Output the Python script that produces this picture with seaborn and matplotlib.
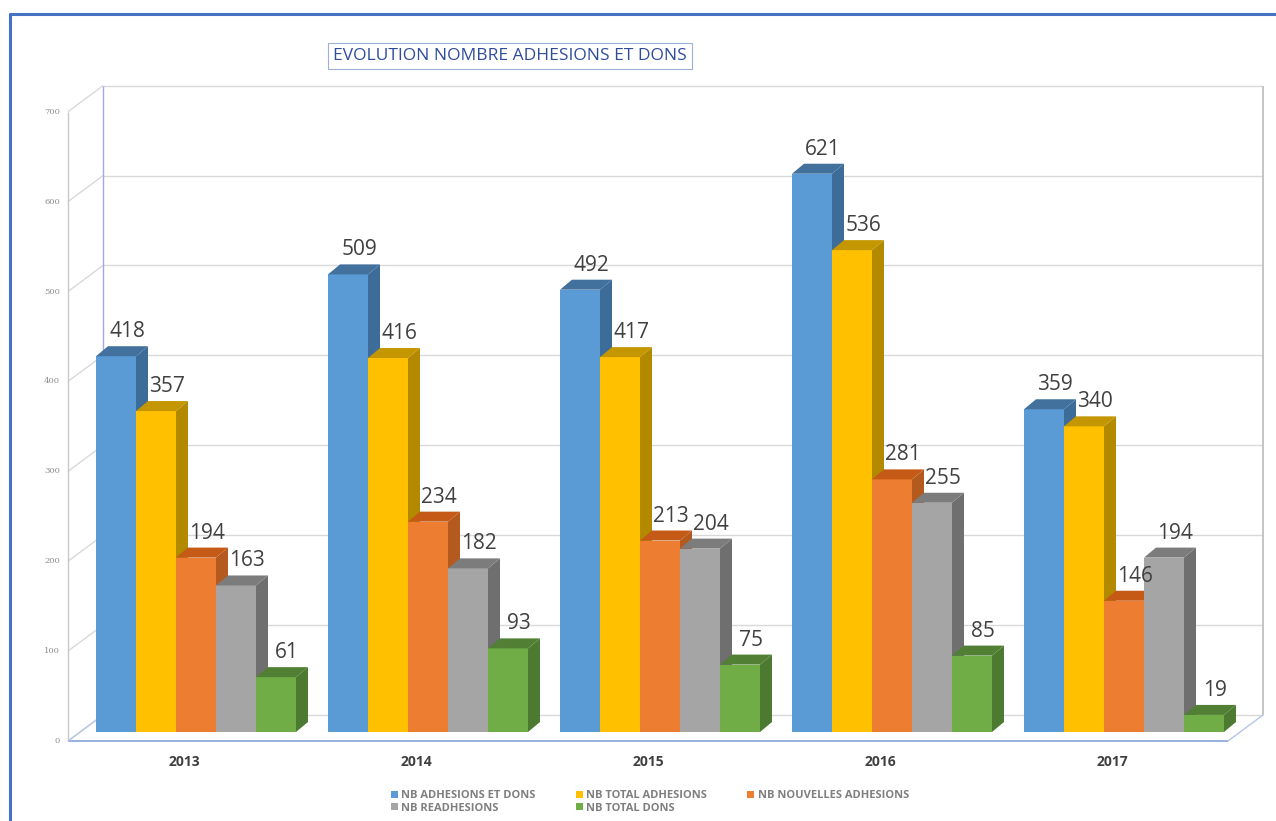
import matplotlib
matplotlib.use("Agg")
import matplotlib.pyplot as plt
from matplotlib.patches import Polygon
from matplotlib.lines import Line2D
import seaborn as sns
import pandas as pd

# ---------------- data ----------------
years = ["2013", "2014", "2015", "2016", "2017"]
series = ["NB ADHESIONS ET DONS", "NB TOTAL ADHESIONS", "NB NOUVELLES ADHESIONS",
          "NB READHESIONS", "NB TOTAL DONS"]
adhesions_et_dons = [418, 509, 492, 621, 359]
total_adhesions = [357, 416, 417, 536, 340]
nouvelles_adhesions = [194, 234, 213, 281, 146]
readhesions = [163, 182, 204, 255, 194]
total_dons = [61, 93, 75, 85, 19]
yticks = [0, 100, 200, 300, 400, 500, 600, 700]

front_colors = ["#5B9BD5", "#FFC000", "#ED7D31", "#A5A5A5", "#70AD47"]
side_colors = ["#3E6C98", "#B38900", "#B55A1F", "#6F6F6F", "#4C7A30"]
top_colors = ["#41719C", "#C49600", "#C45A16", "#7C7C7C", "#517F34"]

values = [adhesions_et_dons, total_adhesions, nouvelles_adhesions, readhesions, total_dons]
rows = []
for s, vals in zip(series, values):
    for y, v in zip(years, vals):
        rows.append({"year": y, "series": s, "value": v})
df = pd.DataFrame(rows)

# ---------------- geometry (pixels) ----------------
FW, FH, DPI = 1276, 821, 100
AX_L, AX_R, AX_B = 80, 1240, 732
PXY = 0.899                      # px per unit
YMAX = 700
AX_T = AX_B - YMAX * PXY
PXX = (AX_R - AX_L) / 5.0        # px per category
FRONT = (-12, 9)                 # image px offset of front plane
BACK = (23, -17)                 # image px offset of back wall
DEPTH = (12, -10)                # bar depth offset

sns.set_style("white")
plt.rcParams["font.family"] = ["Open Sans", "DejaVu Sans"]

fig = plt.figure(figsize=(FW / DPI, FH / DPI), dpi=DPI)
ax = fig.add_axes([AX_L / FW, (FH - AX_B) / FH, (AX_R - AX_L) / FW, (AX_B - AX_T) / FH])

sns.barplot(data=df, x="year", y="value", hue="series", palette=front_colors,
            width=0.862, saturation=1, ax=ax, linewidth=0, edgecolor="none")
ax.set_xlim(-0.5, 4.5)
ax.set_ylim(0, YMAX)


def P(x, y, off):
    return x + off[0] / PXX, y - off[1] / PXY


def seg(p1, p2, color, lw=1.0, z=1):
    ax.plot([p1[0], p2[0]], [p1[1], p2[1]], color=color, lw=lw, clip_on=False,
            zorder=z, solid_capstyle="butt")


grid_c = "#D9D9D9"
# back wall gridlines
for v in yticks:
    seg(P(-0.5, v, BACK), P(4.5, v, BACK), grid_c)
    # diagonal connectors on side wall
    seg(P(-0.5, v, FRONT), P(-0.5, v, BACK), grid_c)
# back wall left edge
seg(P(-0.5, 0, BACK), P(-0.5, YMAX, BACK), "#A3A8E0")
# front axis line
seg(P(-0.5, 0, FRONT), P(-0.5, YMAX, FRONT), "#C8C8C8")
# right wall edge
seg(P(4.5, 0, BACK), P(4.5, YMAX, BACK), "#C0C0C0", lw=1.3)
# floor
seg(P(-0.5, 0, FRONT), P(4.5, 0, FRONT), "#8FAADC", lw=1.3)
seg(P(4.5, 0, FRONT), P(4.5, 0, BACK), "#B4C7E7", lw=1.0)
seg(P(-0.5, 0, FRONT), P(-0.5, 0, BACK), "#B4C7E7", lw=1.0)

# ---------------- 3D bar faces ----------------
sx = DEPTH[0] / PXX
sy = -DEPTH[1] / PXY
for k, cont in enumerate(ax.containers):
    for rect in cont:
        x0, w, h = rect.get_x(), rect.get_width(), rect.get_height()
        rect.set_zorder(3 + k)
        side = Polygon([(x0 + w, 0), (x0 + w + sx, sy), (x0 + w + sx, h + sy), (x0 + w, h)],
                       closed=True, facecolor=side_colors[k], edgecolor="none", zorder=3.5 + k)
        top = Polygon([(x0, h), (x0 + sx, h + sy), (x0 + w + sx, h + sy), (x0 + w, h)],
                      closed=True, facecolor=top_colors[k], edgecolor="none", zorder=3.6 + k)
        ax.add_patch(side)
        ax.add_patch(top)
        ax.text(x0 + w / 2 + sx / 2 + 5 / PXX, h + sy + 4 / PXY, f"{int(h)}",
                ha="center", va="bottom", fontsize=15, color="#404040", zorder=20,
                clip_on=False)

# ---------------- tick labels ----------------
for v in yticks:
    x, y = P(-0.5, v, (FRONT[0] - 8, FRONT[1]))
    ax.text(x, y, str(v), ha="right", va="center", fontsize=6, color="#8C8C8C",
            family="DejaVu Serif", clip_on=False)
for i, yr in enumerate(years):
    x, y = P(i, 0, (FRONT[0], FRONT[1] + 21))
    ax.text(x, y, yr, ha="center", va="center", fontsize=10, fontweight="bold",
            color="#404040", clip_on=False)

ax.set_axis_off()

# ---------------- legend ----------------
handles, labels = ax.get_legend_handles_labels()
if ax.get_legend() is not None:
    ax.get_legend().remove()
order = [0, 3, 1, 4, 2]
leg = fig.legend([handles[i] for i in order], [labels[i] for i in order],
                 loc="center", bbox_to_anchor=(650 / FW, 1 - 802 / FH), ncol=3,
                 frameon=False, fontsize=8, handlelength=0.6, handleheight=0.6,
                 handletextpad=0.35, columnspacing=3.6, labelspacing=0.15)
for t in leg.get_texts():
    t.set_color("#7F7F7F")
    t.set_fontweight("bold")

# ---------------- title ----------------
fig.text(510 / FW, 1 - 56 / FH, "EVOLUTION NOMBRE ADHESIONS ET DONS", ha="center", va="center",
         fontsize=12.5, color="#2F4C9B",
         bbox=dict(boxstyle="square,pad=0.3", facecolor="white", edgecolor="#9DB0D8", lw=0.8))

# ---------------- outer frame ----------------
fig.add_artist(Line2D([10 / FW, 1.0], [1 - 14 / FH, 1 - 14 / FH], transform=fig.transFigure,
                      color="#4472C4", lw=2.2))
fig.add_artist(Line2D([10 / FW, 10 / FW], [1 - 14 / FH, 0], transform=fig.transFigure,
                      color="#4472C4", lw=2.2))

fig.savefig("out.png", dpi=DPI, facecolor="white")
